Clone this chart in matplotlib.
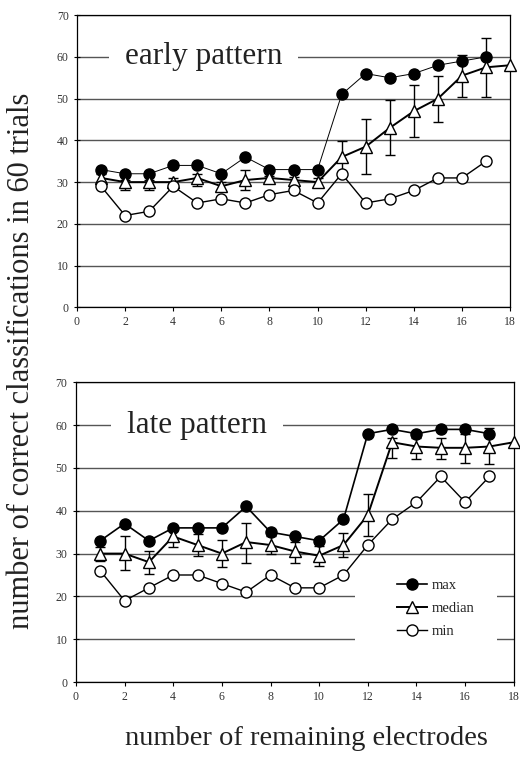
import numpy as np
import matplotlib
matplotlib.use("Agg")
import matplotlib.pyplot as plt
from matplotlib.patches import Rectangle

plt.rcParams['font.family'] = ['Liberation Serif', 'DejaVu Serif']

# early pattern
early_x = np.arange(1, 18)
early_max = [33, 32, 32, 34, 34, 32, 36, 33, 33, 33, 51, 56, 55, 56, 58, 59, 60]
early_min = [29, 22, 23, 29, 25, 26, 25, 27, 28, 25, 32, 25, 26, 28, 31, 31, 35]
early_med_x = np.arange(1, 19)
early_med = [31, 30, 30, 30, 31, 29, 30.5, 31, 30.5, 30, 36, 38.5, 43, 47, 50, 55.5, 57.5, 58]
early_lo = [30, 28, 28, 29, 29, 28, 28, 30, 29.1, 28.8, 32.1, 32, 36.5, 40.9, 44.4, 50.4, 50.4]
early_hi = [32, 30.5, 30.5, 31.1, 32, 30, 33, 31.5, 31.3, 31, 39.9, 45, 49.7, 53.2, 55.4, 60.5, 64.5]

# late pattern
late_x = np.arange(1, 18)
late_max = [33, 37, 33, 36, 36, 36, 41, 35, 34, 33, 38, 58, 59, 58, 59, 59, 58]
late_min = [26, 19, 22, 25, 25, 23, 21, 25, 22, 22, 25, 32, 38, 42, 48, 42, 48]
late_med_x = np.arange(1, 19)
late_med = [30, 30, 28, 34, 32, 30, 32.7, 32, 30.5, 29.5, 32, 39, 56, 55, 54.7, 54.7, 55, 56]
late_lo = [28.2, 26.1, 25.3, 31.5, 29.5, 26.8, 27.8, 29.8, 27.8, 27.1, 29.1, 34.2, 52.3, 52.1, 52.1, 51.1, 51]
late_hi = [31.5, 34.2, 30.7, 35.6, 34.6, 33.2, 37.2, 34, 32.6, 31.8, 34.8, 43.9, 57, 57, 57, 58, 59.4]


def draw_panel(ax, x, vmax, vmin, mx, med, lo, hi, label, label_x, max_lw):
    n = len(lo)
    med_arr = np.array(med[:n])
    yerr = [med_arr - np.array(lo), np.array(hi) - med_arr]
    ax.errorbar(x[:n], med_arr, yerr=yerr, fmt='none', ecolor='black',
                elinewidth=1.0, capsize=3.5, capthick=1.0, zorder=3)
    ax.plot(x, vmax, color='black', lw=max_lw, marker='o', ms=8,
            mfc='black', mec='black', label='max', zorder=4)
    ax.plot(mx, med, color='black', lw=1.4, marker='^', ms=8,
            mfc='white', mec='black', mew=1.0, label='median', zorder=4,
            clip_on=False)
    ax.plot(x, vmin, color='black', lw=1.0, marker='o', ms=8,
            mfc='white', mec='black', mew=1.0, label='min', zorder=4)

    ax.set_xlim(0, 18)
    ax.set_ylim(0, 70)
    ax.set_xticks(np.arange(0, 19, 2))
    ax.set_yticks(np.arange(0, 71, 10))
    ax.tick_params(axis='both', labelsize=8.5, length=3, width=0.8, labelcolor='#333333')
    ax.tick_params(axis='y', direction='inout', length=5)
    ax.yaxis.grid(True, color='#555555', lw=1.0)
    ax.set_axisbelow(True)
    for s in ax.spines.values():
        s.set_linewidth(0.9)
    ax.text(label_x, 60, label, fontsize=22.5, va='center', ha='left', color='#222222',
            bbox=dict(boxstyle='square,pad=0.5', fc='white', ec='none'), zorder=2.5)


fig = plt.figure(figsize=(5.2, 7.57), dpi=100)
ax1 = fig.add_axes([0.148, 0.594, 0.833, 0.386])
ax2 = fig.add_axes([0.146, 0.099, 0.842, 0.396])

draw_panel(ax1, early_x, early_max, early_min, early_med_x, early_med,
           early_lo, early_hi, 'early pattern', 2.0, 0.7)
draw_panel(ax2, late_x, late_max, late_min, late_med_x, late_med,
           late_lo, late_hi, 'late pattern', 2.1, 1.2)

# white patch behind the legend breaks the grid lines
ax2.add_patch(Rectangle((11.47, 7), 5.83, 20, fc='white', ec='none', zorder=1.5))
leg = ax2.legend(loc='upper left', bbox_to_anchor=(0.733, 0.345), fontsize=10.5,
                 frameon=False, handlelength=2.1, borderpad=0, borderaxespad=0,
                 labelspacing=0.68, handletextpad=0.3)
for t in leg.get_texts():
    t.set_color('#222222')

fig.text(0.042, 0.524, 'number of correct classifications in 60 trials',
         rotation=90, fontsize=22, va='center', ha='center', color='#222222')
fig.text(0.589, 0.025, 'number of remaining electrodes', fontsize=20.5,
         va='center', ha='center', color='#222222')

fig.savefig('out.png', dpi=100)
